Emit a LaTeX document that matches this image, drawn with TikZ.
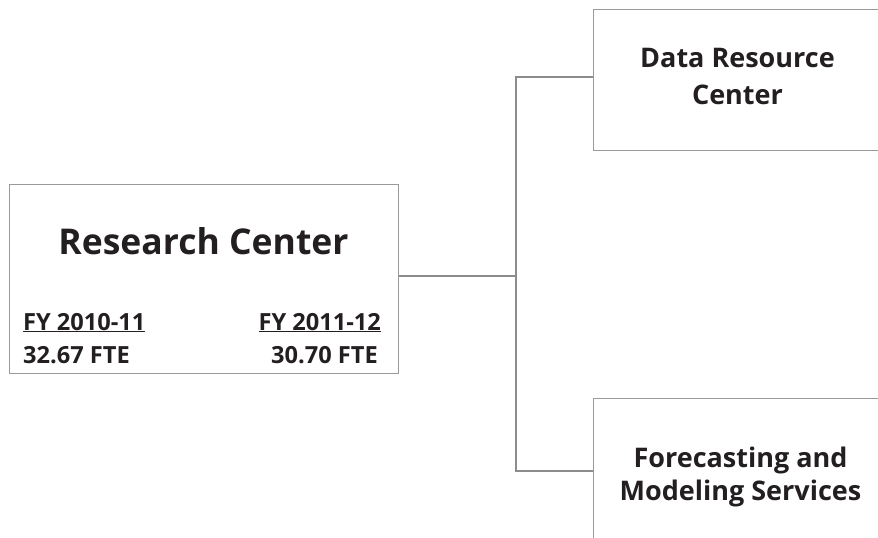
\documentclass[tikz,border=0pt]{standalone}
\usepackage{fontspec}
\setmainfont{Open Sans}
\definecolor{ink}{HTML}{231F20}
\definecolor{boxline}{HTML}{9A9A9A}
\definecolor{wire}{HTML}{8C8C8C}
\tikzset{
  unitbox/.style={draw=boxline, line width=1pt, fill=white, rectangle, inner sep=0pt},
  label/.style={text=ink, font=\bfseries, inner sep=0pt},
  wireline/.style={draw=wire, line width=1.6pt},
  bigtext/.style={label, font=\bfseries\fontsize{35.5}{42}\selectfont},
  figtext/.style={label, font=\bfseries\fontsize{23.6}{28}\selectfont},
  unittext/.style={label, font=\bfseries\fontsize{27}{32}\selectfont},
}
\begin{document}
\begin{tikzpicture}[x=1pt,y=-1pt]
  \useasboundingbox (0,0) rectangle (878,538);
  \clip (0,0) rectangle (878,538);

  % boxes
  \node[unitbox, minimum width=389pt, minimum height=189pt] (main) at (203.5,278.5) {};
  \node[unitbox, minimum width=300pt, minimum height=141pt] (drc) at (743,79.5) {};
  \node[unitbox, minimum width=300pt, minimum height=160pt] (fms) at (743,478) {};

  % connectors
  \coordinate (jm) at (516,276);
  \coordinate (jt) at (516,77);
  \coordinate (jb) at (516,471);
  \draw[wireline] (main.east |- jm) -- (jm);
  \draw[wireline] (drc.west |- jt) -- (jt) -- (jb) -- (fms.west |- jb);

  % main box text
  \node[bigtext, anchor=base] (title) at (203.5,254) {Research Center};
  \node[figtext, anchor=base west] (fy1) at (23,330) {\underline{FY 2010-11}};
  \node[figtext, anchor=base west] (fte1) at (23,363) {32.67 FTE};
  \node[figtext, anchor=base east] (fy2) at (381,330) {\underline{FY 2011-12}};
  \node[figtext, anchor=base east] (fte2) at (378,363) {30.70 FTE};

  % unit box text
  \node[unittext, anchor=base] (drc1) at (737.5,67) {Data Resource};
  \node[unittext, anchor=base] (drc2) at (737.5,104) {Center};
  \node[unittext, anchor=base] (fms1) at (740.5,467) {Forecasting and};
  \node[unittext, anchor=base] (fms2) at (740.5,500) {Modeling Services};
\end{tikzpicture}
\end{document}
